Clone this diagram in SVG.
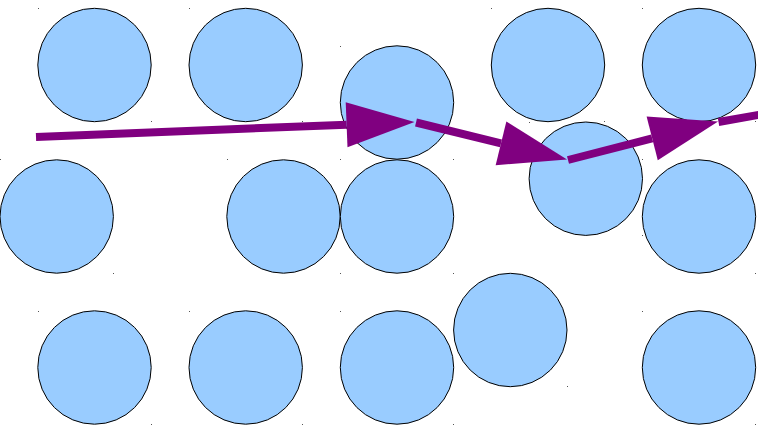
<svg xmlns="http://www.w3.org/2000/svg" width="758" height="425" viewBox="0 0 758 425">
<style>
.n{fill:#99ccff;stroke:#000;stroke-width:1}
.d{fill:#555}
.c{fill:none;stroke:#800080;stroke-width:8}
</style>
<defs>
<marker id="ah" markerUnits="userSpaceOnUse" viewBox="0 0 68 45" refX="0" refY="22.5" markerWidth="68" markerHeight="45" orient="auto" overflow="visible">
<path d="M0,0 L68,22.5 L0,45 Z" fill="#800080"/>
</marker>
</defs>
<rect width="758" height="425" fill="#fff"/>
<g id="dots">
<rect class="d" x="38" y="8" width="1" height="1"/><rect class="d" x="151" y="121" width="1" height="1"/>
<rect class="d" x="189" y="8" width="1" height="1"/><rect class="d" x="302" y="121" width="1" height="1"/>
<rect class="d" x="340" y="46" width="1" height="1"/><rect class="d" x="453" y="159" width="1" height="1"/>
<rect class="d" x="491" y="8" width="1" height="1"/><rect class="d" x="604" y="121" width="1" height="1"/>
<rect class="d" x="642" y="8" width="1" height="1"/><rect class="d" x="755" y="121" width="1" height="1"/>
<rect class="d" x="0" y="159" width="1" height="1"/><rect class="d" x="113" y="273" width="1" height="1"/>
<rect class="d" x="227" y="159" width="1" height="1"/><rect class="d" x="340" y="273" width="1" height="1"/>
<rect class="d" x="340" y="159" width="1" height="1"/><rect class="d" x="453" y="273" width="1" height="1"/>
<rect class="d" x="529" y="122" width="1" height="1"/><rect class="d" x="642" y="235" width="1" height="1"/>
<rect class="d" x="642" y="159" width="1" height="1"/><rect class="d" x="755" y="273" width="1" height="1"/>
<rect class="d" x="38" y="311" width="1" height="1"/><rect class="d" x="151" y="424" width="1" height="1"/>
<rect class="d" x="189" y="311" width="1" height="1"/><rect class="d" x="302" y="424" width="1" height="1"/>
<rect class="d" x="340" y="311" width="1" height="1"/><rect class="d" x="453" y="424" width="1" height="1"/>
<rect class="d" x="453" y="273" width="1" height="1"/><rect class="d" x="567" y="386" width="1" height="1"/>
<rect class="d" x="642" y="311" width="1" height="1"/><rect class="d" x="755" y="424" width="1" height="1"/>
</g>
<g id="n1"><circle class="n" cx="94.5" cy="65" r="56.7"/></g>
<g id="n2"><circle class="n" cx="245.7" cy="65" r="56.7"/></g>
<g id="n3"><circle class="n" cx="397" cy="102.5" r="56.7"/></g>
<g id="n4"><circle class="n" cx="548" cy="65" r="56.7"/></g>
<g id="n5"><circle class="n" cx="699" cy="65" r="56.7"/></g>
<g id="n6"><circle class="n" cx="56.7" cy="216.5" r="56.7"/></g>
<g id="n7"><circle class="n" cx="283.5" cy="216.5" r="56.7"/></g>
<g id="n8"><circle class="n" cx="397" cy="216.5" r="56.7"/></g>
<g id="n9"><circle class="n" cx="585.8" cy="178.7" r="56.7"/></g>
<g id="n10"><circle class="n" cx="699" cy="216.5" r="56.7"/></g>
<g id="n11"><circle class="n" cx="94.5" cy="367.5" r="56.7"/></g>
<g id="n12"><circle class="n" cx="245.7" cy="367.5" r="56.7"/></g>
<g id="n13"><circle class="n" cx="397" cy="367.5" r="56.7"/></g>
<g id="n14"><circle class="n" cx="510.3" cy="330" r="56.7"/></g>
<g id="n15"><circle class="n" cx="699" cy="367.5" r="56.7"/></g>
<g id="connectors">
<path class="c" d="M36,137 L346.6,124.7" marker-end="url(#ah)"/>
<path class="c" d="M416,122.5 L501,143.3" marker-end="url(#ah)"/>
<path class="c" d="M568,160 L652.2,138.4" marker-end="url(#ah)"/>
<path class="c" d="M718.5,122 L775,112"/>
</g>
</svg>
